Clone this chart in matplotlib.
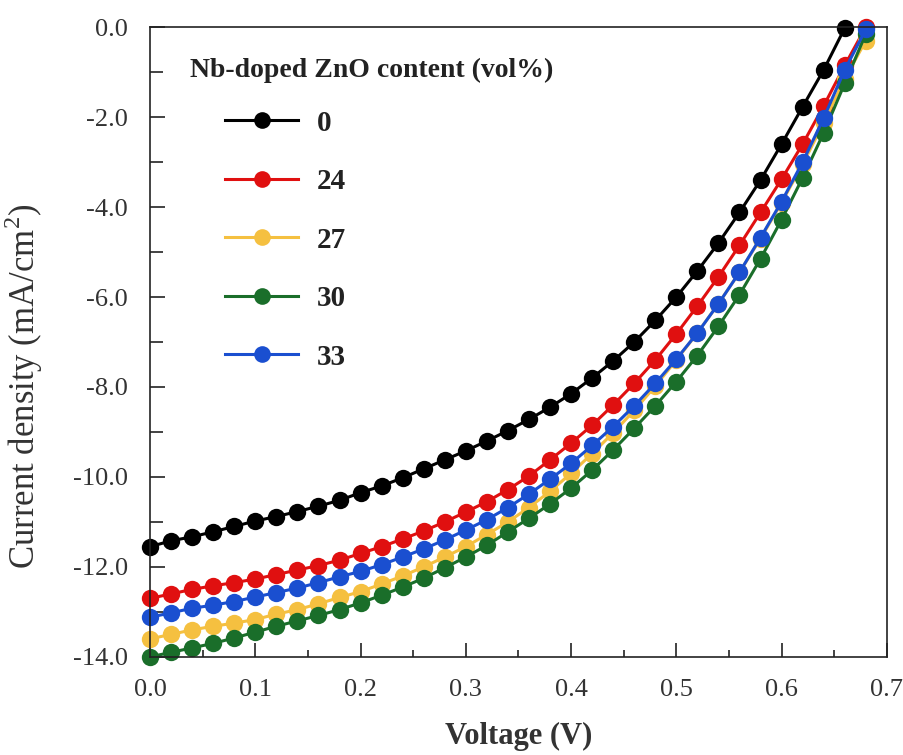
import matplotlib
matplotlib.use('Agg')
import matplotlib.pyplot as plt
from matplotlib.ticker import MultipleLocator, FormatStrFormatter

plt.rcParams['font.family'] = ['Liberation Serif', 'DejaVu Serif']
plt.rcParams['axes.unicode_minus'] = False
plt.rcParams['mathtext.fontset'] = 'custom'
plt.rcParams['mathtext.rm'] = 'Liberation Serif'

# 電圧 (V), 0.02 V 刻み
voltage = [round(0.02 * i, 2) for i in range(35)]

# 電流密度 (mA/cm2) - 画像から読み取り
j_0 = [-11.55, -11.42, -11.33, -11.22, -11.10, -10.98, -10.88, -10.77, -10.65, -10.52,
       -10.35, -10.20, -10.02, -9.82, -9.62, -9.42, -9.20, -8.97, -8.72, -8.45,
       -8.15, -7.80, -7.42, -7.00, -6.52, -6.00, -5.42, -4.80, -4.12, -3.40,
       -2.60, -1.77, -0.95, -0.02]
j_24 = [-12.70, -12.60, -12.50, -12.42, -12.35, -12.27, -12.17, -12.07, -11.97, -11.85,
        -11.70, -11.55, -11.38, -11.20, -11.00, -10.78, -10.55, -10.28, -9.98, -9.62,
        -9.25, -8.85, -8.40, -7.92, -7.40, -6.82, -6.20, -5.55, -4.85, -4.12,
        -3.38, -2.60, -1.75, -0.85, 0.00]
j_27 = [-13.60, -13.50, -13.40, -13.32, -13.25, -13.17, -13.05, -12.95, -12.82, -12.68,
        -12.55, -12.38, -12.20, -12.00, -11.78, -11.55, -11.28, -11.00, -10.68, -10.32,
        -9.92, -9.48, -9.02, -8.52, -7.98, -7.40, -6.80, -6.15, -5.45, -4.70,
        -3.90, -3.05, -2.12, -1.15, -0.30]
j_30 = [-14.00, -13.90, -13.80, -13.70, -13.58, -13.45, -13.32, -13.20, -13.08, -12.95,
        -12.80, -12.63, -12.45, -12.25, -12.02, -11.78, -11.52, -11.22, -10.92, -10.60,
        -10.25, -9.85, -9.40, -8.92, -8.42, -7.88, -7.30, -6.65, -5.95, -5.15,
        -4.28, -3.35, -2.35, -1.25, -0.15]
j_33 = [-13.12, -13.02, -12.92, -12.85, -12.77, -12.67, -12.57, -12.47, -12.35, -12.22,
        -12.10, -11.95, -11.78, -11.60, -11.40, -11.18, -10.95, -10.68, -10.38, -10.05,
        -9.70, -9.30, -8.88, -8.42, -7.92, -7.38, -6.80, -6.15, -5.45, -4.68,
        -3.88, -3.00, -2.02, -0.95, -0.05]

labels = ['0', '24', '27', '30', '33']
series = [j_0, j_24, j_27, j_30, j_33]
colors = ['#000000', '#e01010', '#f5c040', '#1a6e2a', '#1a4fd0']

fig = plt.figure(figsize=(9.04, 7.55), dpi=100)
ax = fig.add_axes([0.166, 0.130, 0.815, 0.834])

for lab, j, c in zip(labels, series, colors):
    ax.plot(voltage[:len(j)], j, '-o', color=c, lw=2.2, markersize=12.5,
            markeredgewidth=0, label=lab, clip_on=False)

ax.set_xlim(0, 0.7)
ax.set_ylim(-14, 0)
ax.xaxis.set_major_locator(MultipleLocator(0.1))
ax.xaxis.set_minor_locator(MultipleLocator(0.05))
ax.yaxis.set_major_locator(MultipleLocator(2))
ax.yaxis.set_minor_locator(MultipleLocator(1))
ax.xaxis.set_major_formatter(FormatStrFormatter('%.1f'))
ax.yaxis.set_major_formatter(FormatStrFormatter('%.1f'))
ax.tick_params(which='both', direction='in', labelsize=19, width=1.2, pad=16,
               colors='#222222', labelcolor='#333333')
ax.tick_params(axis='x', which='major', length=10)
ax.tick_params(axis='x', which='minor', length=5)
ax.tick_params(axis='y', which='major', length=11)
ax.tick_params(axis='y', which='minor', length=9)
for s in ax.spines.values():
    s.set_linewidth(1.2)
    s.set_color('#222222')

ax.set_xlabel('Voltage (V)', fontsize=22, fontweight='bold', color='#333333')
ax.set_ylabel('Current density (mA/cm$^2$)', fontsize=25, color='#333333')
ax.xaxis.set_label_coords(0.5, -0.103)
ax.yaxis.set_label_coords(-0.143, 0.43)

ax.text(0.054, 0.932, 'Nb-doped ZnO content (vol%)', transform=ax.transAxes,
        fontsize=20, fontweight='bold', ha='left', va='center', color='#222222')

leg = ax.legend(loc='upper left', bbox_to_anchor=(0.102, 0.869), frameon=False,
                numpoints=1, prop={'size': 21, 'weight': 'bold'},
                handlelength=2.5, labelspacing=1.08, handletextpad=0.65,
                borderpad=0, borderaxespad=0)
for h in leg.legend_handles:
    h.set_markersize(12)
for t in leg.get_texts():
    t.set_color('#222222')

fig.savefig('out.png', dpi=100)
